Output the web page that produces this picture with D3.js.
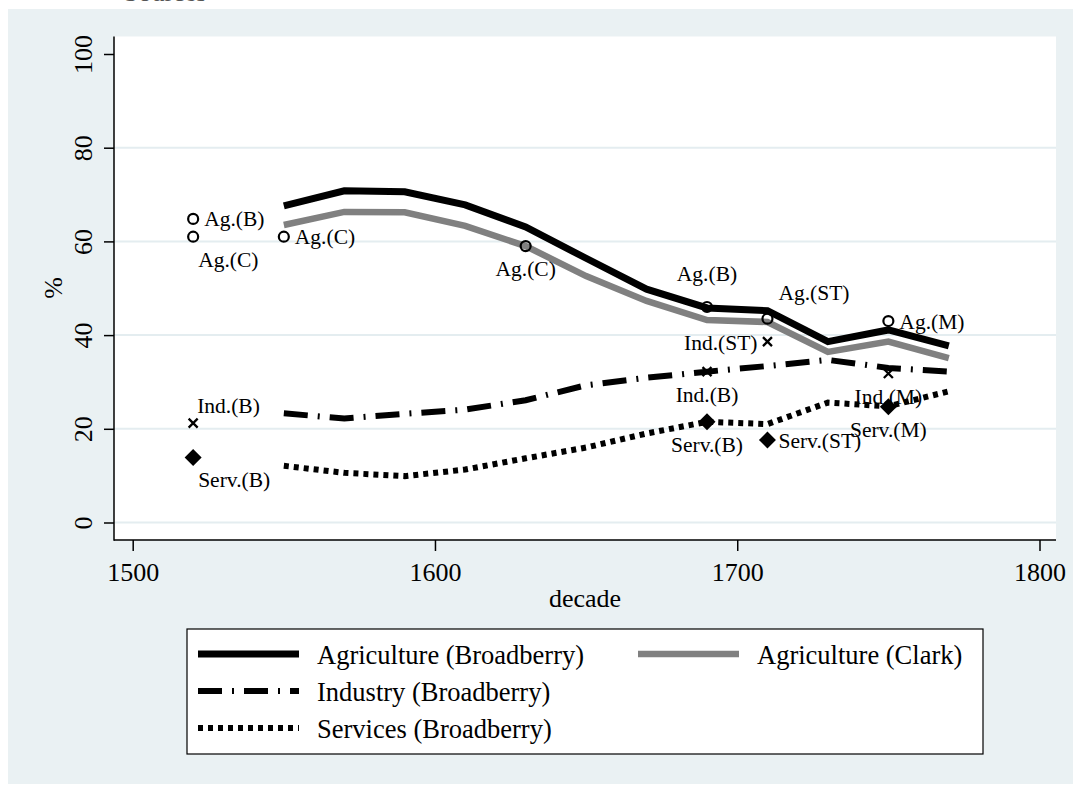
<!DOCTYPE html>
<html>
<head>
<meta charset="utf-8">
<script src="https://cdn.jsdelivr.net/npm/d3@7/dist/d3.min.js"></script>
<style>
    body { margin: 0; background: #fff; }
    text { font-family: "Liberation Serif", "Times New Roman", serif; fill: #000; }
</style>
</head>
<body>
<svg></svg>
<script>
    // decadal shares (%), every 20 years
    var years = [1550, 1570, 1590, 1610, 1630, 1650, 1670, 1690, 1710, 1730, 1750, 1770];
    var agBroadberry   = [67.6, 70.8, 70.6, 67.8, 63.1, 56.4, 49.8, 45.8, 45.2, 38.6, 41.1, 37.7];
    var agClark        = [63.5, 66.3, 66.2, 63.3, 59.0, 52.6, 47.3, 43.2, 42.8, 36.4, 38.6, 35.1];
    var indBroadberry  = [23.3, 22.2, 23.2, 24.1, 26.1, 29.3, 30.9, 32.2, 33.4, 34.7, 33.0, 32.2];
    var servBroadberry = [12.1, 10.6, 9.9, 11.3, 13.7, 16.0, 19.0, 21.5, 21.0, 25.6, 24.8, 28.0];

    // point estimates: year, value, label, label clock position
    var agPoints = [
        [1520, 64.8, "Ag.(B)", 3],
        [1520, 61.0, "Ag.(C)", 4],
        [1550, 61.0, "Ag.(C)", 3],
        [1630, 59.0, "Ag.(C)", 6],
        [1690, 46.0, "Ag.(B)", 12],
        [1710, 43.5, "Ag.(ST)", 2],
        [1750, 43.0, "Ag.(M)", 3]
    ];
    var indPoints = [
        [1520, 21.2, "Ind.(B)", 1],
        [1690, 32.2, "Ind.(B)", 6],
        [1710, 38.6, "Ind.(ST)", 9],
        [1750, 31.8, "Ind.(M)", 6]
    ];
    var servPoints = [
        [1520, 13.9, "Serv.(B)", 4],
        [1690, 21.5, "Serv.(B)", 6],
        [1710, 17.6, "Serv.(ST)", 3],
        [1750, 24.7, "Serv.(M)", 6]
    ];

    var yTicks = [0, 20, 40, 60, 80, 100];
    var xTicks = [1500, 1600, 1700, 1800];
    var legendNames = ["Agriculture (Broadberry)", "Agriculture (Clark)", "Industry (Broadberry)", "Services (Broadberry)"];

    var w = 1073, h = 785;
    var plot = {left: 114, right: 1056, top: 36.5, bottom: 540};

    var svg = d3.select("svg").attr("width", w).attr("height", h);

    // outer region
    svg.append("rect").attr("x", 8).attr("y", 9).attr("width", w - 8).attr("height", h - 10)
            .attr("fill", "#eaf1f3");
    // text above the graph region, cut off by the picture's top edge
    svg.append("text").attr("x", 124).attr("y", 1).attr("font-size", 26).style("fill", "#555")
            .text("Sources");

    svg.append("rect")
            .attr("x", plot.left).attr("y", plot.top)
            .attr("width", plot.right - plot.left).attr("height", plot.bottom - plot.top)
            .attr("fill", "#fff");

    var x = d3.scaleLinear().domain([1500, 1800]).range([132.7, 1039.5]);
    var y = d3.scaleLinear().domain([0, 100]).range([522.5, 54]);

    // gridlines
    svg.append("g").selectAll("line")
            .data(yTicks.filter(function(d) { return d < 100; }))
            .enter().append("line")
            .attr("x1", plot.left).attr("x2", plot.right)
            .attr("y1", function(d) { return y(d); })
            .attr("y2", function(d) { return y(d); })
            .attr("stroke", "#e4edf0")
            .attr("stroke-width", 2);

    // axes
    var yAxis = svg.append("g")
            .attr("transform", "translate(" + plot.left + ",0)")
            .call(d3.axisLeft(y).tickValues(yTicks).tickSize(10).tickSizeOuter(0));
    yAxis.select(".domain").remove();
    yAxis.selectAll("line").attr("stroke", "#000").attr("stroke-width", 1.5);
    yAxis.selectAll("text")
            .attr("x", 0).attr("y", -22).attr("dy", 0)
            .attr("transform", "rotate(-90)")
            .attr("text-anchor", "middle")
            .attr("font-size", 26)
            .attr("font-family", null);

    var xAxis = svg.append("g")
            .attr("transform", "translate(0," + plot.bottom + ")")
            .call(d3.axisBottom(x).tickValues(xTicks).tickFormat(d3.format("d")).tickSize(11).tickSizeOuter(0));
    xAxis.select(".domain").remove();
    xAxis.selectAll("line").attr("stroke", "#000").attr("stroke-width", 1.5);
    xAxis.selectAll("text")
            .attr("y", 41).attr("dy", 0)
            .attr("font-size", 26)
            .attr("font-family", null);

    svg.append("line").attr("x1", plot.left).attr("x2", plot.left)
            .attr("y1", plot.top).attr("y2", plot.bottom + 0.75)
            .attr("stroke", "#000").attr("stroke-width", 1.5);
    svg.append("line").attr("x1", plot.left).attr("x2", plot.right)
            .attr("y1", plot.bottom).attr("y2", plot.bottom)
            .attr("stroke", "#000").attr("stroke-width", 1.5);

    svg.append("text").attr("x", 585).attr("y", 607)
            .attr("text-anchor", "middle").attr("font-size", 26).text("decade");
    svg.append("text").attr("transform", "translate(62,288) rotate(-90)")
            .attr("text-anchor", "middle").attr("font-size", 26).text("%");

    // series lines
    var series = [
        {values: agBroadberry, color: "#000", width: 7, dash: null},
        {values: agClark, color: "#808080", width: 6.5, dash: null},
        {values: indBroadberry, color: "#000", width: 6, dash: "24,10,2,10"},
        {values: servBroadberry, color: "#000", width: 6, dash: "5,5"}
    ];

    var line = d3.line()
            .x(function(d) { return x(d[0]); })
            .y(function(d) { return y(d[1]); });

    svg.append("g").selectAll("path")
            .data(series)
            .enter().append("path")
            .attr("d", function(s) { return line(d3.zip(years, s.values)); })
            .attr("fill", "none")
            .attr("stroke", function(s) { return s.color; })
            .attr("stroke-width", function(s) { return s.width; })
            .attr("stroke-dasharray", function(s) { return s.dash; })
            .attr("stroke-linejoin", "miter");

    // markers
    var markers = svg.append("g");
    markers.selectAll(".ag").data(agPoints).enter().append("circle")
            .attr("cx", function(d) { return x(d[0]); })
            .attr("cy", function(d) { return y(d[1]); })
            .attr("r", 5)
            .attr("fill", "none").attr("stroke", "#000").attr("stroke-width", 2.2);

    markers.selectAll(".ind").data(indPoints).enter().append("path")
            .attr("transform", function(d) { return "translate(" + x(d[0]) + "," + y(d[1]) + ")"; })
            .attr("d", "M-4.5,-4.5L4.5,4.5M-4.5,4.5L4.5,-4.5")
            .attr("stroke", "#000").attr("stroke-width", 2.3);

    markers.selectAll(".serv").data(servPoints).enter().append("path")
            .attr("transform", function(d) { return "translate(" + x(d[0]) + "," + y(d[1]) + ")"; })
            .attr("d", "M0,-8.5L8.5,0L0,8.5L-8.5,0Z")
            .attr("fill", "#000");

    // marker labels by clock position
    var offsets = {
        1: {dx: 4, dy: -10.5, anchor: "start"},
        2: {dx: 11, dy: -19, anchor: "start"},
        3: {dx: 11, dy: 7.5, anchor: "start"},
        4: {dx: 5, dy: 30, anchor: "start"},
        6: {dx: 0, dy: 30, anchor: "middle"},
        9: {dx: -10, dy: 8, anchor: "end"},
        12: {dx: 0, dy: -26, anchor: "middle"}
    };
    svg.append("g").selectAll("text")
            .data(agPoints.concat(indPoints, servPoints))
            .enter().append("text")
            .attr("x", function(d) { return x(d[0]) + offsets[d[3]].dx; })
            .attr("y", function(d) { return y(d[1]) + offsets[d[3]].dy; })
            .attr("text-anchor", function(d) { return offsets[d[3]].anchor; })
            .attr("font-size", 21.5)
            .text(function(d) { return d[2]; });

    // legend
    var legend = svg.append("g");
    legend.append("rect").attr("x", 187).attr("y", 629).attr("width", 796).attr("height", 125)
            .attr("fill", "#fff").attr("stroke", "#000").attr("stroke-width", 1.2);

    var legendSpots = [[198, 654], [638, 654], [198, 691], [198, 728]];
    var items = legend.selectAll(".item")
            .data(series)
            .enter().append("g")
            .attr("transform", function(s, i) { return "translate(" + legendSpots[i][0] + "," + legendSpots[i][1] + ")"; });
    items.append("line")
            .attr("x1", 0).attr("x2", 101).attr("y1", 0).attr("y2", 0)
            .attr("stroke", function(s) { return s.color; })
            .attr("stroke-width", function(s) { return s.width; })
            .attr("stroke-dasharray", function(s) { return s.dash; });
    items.append("text")
            .attr("x", 119).attr("y", 9.5)
            .attr("font-size", 26.5)
            .text(function(s, i) { return legendNames[i]; });
</script>
</body>
</html>
